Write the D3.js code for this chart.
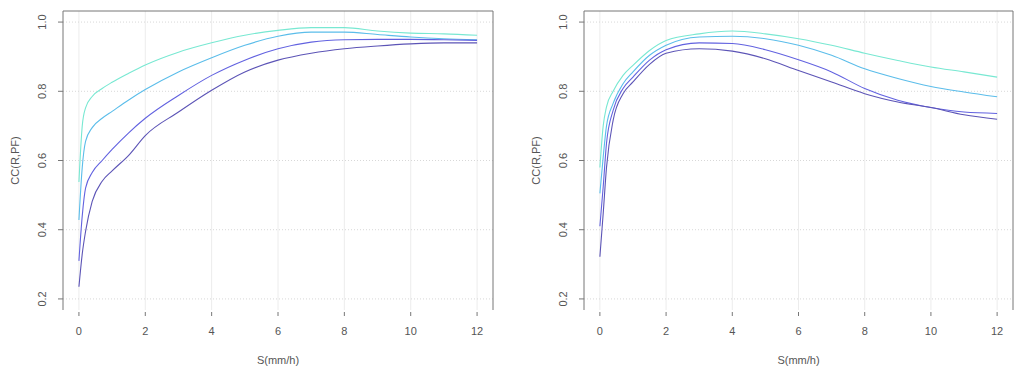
<!DOCTYPE html>
<html>
<head>
<meta charset="utf-8">
<script src="https://cdn.jsdelivr.net/npm/d3@7"></script>
<style>
  body { margin: 0; background: #fff; }
  text { font-family: "Liberation Sans", Arial, sans-serif; fill: #555; }
</style>
</head>
<body>
<div id="chart"></div>
<script>
// x positions (S, mm/h) shared by all curves
var sValues = [0, 0.1, 0.2, 0.4, 0.7, 1, 1.5, 2, 3, 4, 5, 6, 7, 8, 9, 10, 11, 12];

var seriesColors = ['#78e8d2', '#5bbdea', '#6262e0', '#5c54b6'];

// left panel: one array per curve
var leftAqua   = [0.538, 0.70, 0.752, 0.785, 0.808, 0.826, 0.852, 0.876, 0.913, 0.940, 0.962, 0.976, 0.984, 0.984, 0.974, 0.968, 0.966, 0.962];
var leftSky    = [0.428, 0.58, 0.655, 0.695, 0.722, 0.742, 0.775, 0.805, 0.856, 0.897, 0.933, 0.959, 0.971, 0.971, 0.964, 0.957, 0.952, 0.949];
var leftBlue   = [0.310, 0.44, 0.520, 0.565, 0.600, 0.632, 0.680, 0.722, 0.788, 0.846, 0.890, 0.923, 0.942, 0.949, 0.950, 0.950, 0.949, 0.947];
var leftSlate  = [0.235, 0.33, 0.395, 0.482, 0.540, 0.570, 0.615, 0.672, 0.740, 0.803, 0.856, 0.890, 0.910, 0.923, 0.931, 0.937, 0.940, 0.940];

// right panel
var rightAqua  = [0.580, 0.70, 0.755, 0.800, 0.846, 0.875, 0.918, 0.947, 0.966, 0.974, 0.966, 0.952, 0.933, 0.910, 0.889, 0.870, 0.856, 0.841];
var rightSky   = [0.505, 0.61, 0.700, 0.765, 0.822, 0.856, 0.904, 0.933, 0.957, 0.959, 0.952, 0.933, 0.904, 0.865, 0.837, 0.814, 0.798, 0.784];
var rightBlue  = [0.410, 0.524, 0.650, 0.745, 0.808, 0.841, 0.890, 0.920, 0.940, 0.938, 0.920, 0.891, 0.856, 0.808, 0.774, 0.753, 0.740, 0.736];
var rightSlate = [0.322, 0.447, 0.580, 0.716, 0.793, 0.827, 0.878, 0.910, 0.923, 0.916, 0.894, 0.860, 0.827, 0.793, 0.769, 0.753, 0.732, 0.719];

var xTicks = [0, 2, 4, 6, 8, 10, 12];
var yTicks = [0.2, 0.4, 0.6, 0.8, 1.0];

var xLabel = 'S(mm/h)';
var yLabel = 'CC(R,PF)';

var WIDTH = 1021, HEIGHT = 373;

var svg = d3.select('#chart').append('svg')
    .attr('width', WIDTH)
    .attr('height', HEIGHT);

drawPanel(63, 493, [leftAqua, leftSky, leftBlue, leftSlate]);
drawPanel(584, 1013, [rightAqua, rightSky, rightBlue, rightSlate]);

function drawPanel(left, right, series){
    var top = 11, bottom = 310;

    var x = d3.scaleLinear().domain([-0.48, 12.48]).range([left, right]);
    var y = d3.scaleLinear().domain([0.168, 1.032]).range([bottom, top]);

    var g = svg.append('g');

    // grid
    g.selectAll('line.vgrid').data(xTicks).enter().append('line')
        .attr('x1', function(d){ return x(d) }).attr('x2', function(d){ return x(d) })
        .attr('y1', top).attr('y2', bottom)
        .style('stroke', '#ececec').style('stroke-width', 1);

    g.selectAll('line.hgrid').data(yTicks).enter().append('line')
        .attr('x1', left).attr('x2', right)
        .attr('y1', function(d){ return y(d) }).attr('y2', function(d){ return y(d) })
        .style('stroke', '#d8d8d8').style('stroke-width', 1)
        .style('stroke-dasharray', '1,2');

    // curves
    var line = d3.line()
        .x(function(d, i){ return x(sValues[i]) })
        .y(function(d){ return y(d) })
        .curve(d3.curveMonotoneX);

    g.selectAll('path.curve').data(series).enter().append('path')
        .attr('d', line)
        .style('fill', 'none')
        .style('stroke', function(d, i){ return seriesColors[i] })
        .style('stroke-width', 1.1);

    // box: left, top, right
    g.append('path')
        .attr('d', 'M' + left + ',' + bottom + 'V' + top + 'H' + right + 'V' + bottom)
        .style('fill', 'none').style('stroke', '#777').style('stroke-width', 1);

    // y axis ticks + labels
    g.selectAll('line.ytick').data(yTicks).enter().append('line')
        .attr('x1', left - 5).attr('x2', left)
        .attr('y1', function(d){ return y(d) }).attr('y2', function(d){ return y(d) })
        .style('stroke', '#777');

    g.selectAll('text.ylab').data(yTicks).enter().append('text')
        .attr('transform', function(d){ return 'translate(' + (left - 21) + ',' + y(d) + ') rotate(-90)' })
        .attr('text-anchor', 'middle')
        .attr('dy', '0.35em')
        .style('font-size', '11px')
        .text(function(d){ return d3.format('.1f')(d) });

    // x axis ticks + labels (no axis line)
    g.selectAll('line.xtick').data(xTicks).enter().append('line')
        .attr('x1', function(d){ return x(d) }).attr('x2', function(d){ return x(d) })
        .attr('y1', bottom + 2).attr('y2', bottom + 6)
        .style('stroke', '#777');

    g.selectAll('text.xlab').data(xTicks).enter().append('text')
        .attr('x', function(d){ return x(d) })
        .attr('y', 331)
        .attr('text-anchor', 'middle')
        .attr('dy', '0.35em')
        .style('font-size', '11px')
        .text(function(d){ return d });

    // axis titles
    g.append('text')
        .attr('x', (left + right) / 2)
        .attr('y', 360)
        .attr('text-anchor', 'middle')
        .attr('dy', '0.35em')
        .style('font-size', '11px')
        .text(xLabel);

    g.append('text')
        .attr('transform', 'translate(' + (left - 48) + ',' + ((top + bottom) / 2) + ') rotate(-90)')
        .attr('text-anchor', 'middle')
        .attr('dy', '0.35em')
        .style('font-size', '11px')
        .text(yLabel);
}
</script>
</body>
</html>
